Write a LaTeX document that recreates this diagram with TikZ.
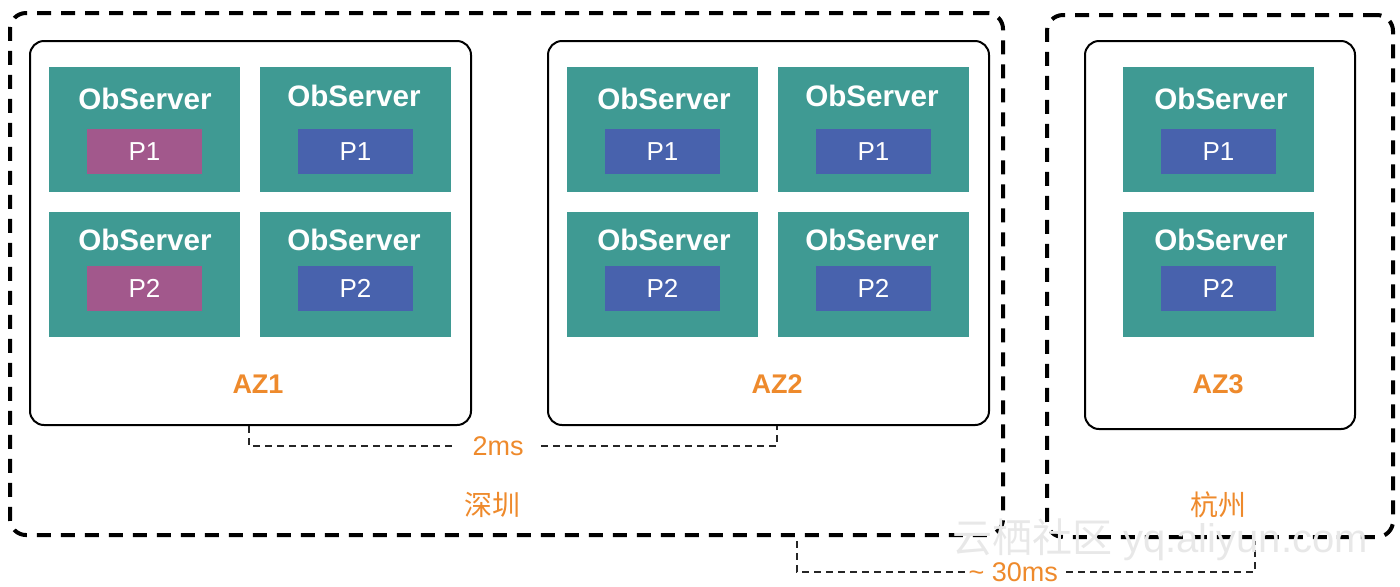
\documentclass[tikz,border=0pt]{standalone}
\usepackage{fontspec}
\setmainfont{Liberation Sans}
\newfontfamily\cjk{Noto Sans CJK SC}
\usetikzlibrary{calc}
\definecolor{teal1}{HTML}{3F9A93}
\definecolor{pink1}{HTML}{A2588C}
\definecolor{blue1}{HTML}{4862AD}
\definecolor{org}{HTML}{EE8A2C}
\tikzset{
  region/.style={draw=black, line width=2pt, dash pattern=on 7pt off 5pt, rounded corners=8pt},
  azbox/.style={draw=black, line width=1pt, rounded corners=7pt, fill=white},
  srv/.style={fill=teal1, minimum width=95.5pt, minimum height=62.5pt, inner sep=0pt},
  srvtitle/.style={text=white, font=\fontsize{14.8}{16}\selectfont\bfseries, inner sep=0pt},
  part/.style={minimum width=57.5pt, minimum height=22.5pt, inner sep=0pt, text=white, font=\fontsize{13}{15}\selectfont},
  pa/.style={part, fill=pink1},
  pb/.style={part, fill=blue1},
  azlabel/.style={text=org, font=\fontsize{13.5}{15}\selectfont\bfseries},
  citylabel/.style={text=org, font=\cjk\fontsize{14}{16}\selectfont},
  conn/.style={draw=black!85, line width=0.8pt, dash pattern=on 3.5pt off 2.5pt},
  lat/.style={text=org, fill=white, inner ysep=0pt, font=\fontsize{13.5}{15}\selectfont},
}
\begin{document}
\begin{tikzpicture}[x=0.5pt,y=-0.5pt]
\useasboundingbox (0,0) rectangle (1400,586);
% regions
\node[region, minimum width=496.5pt, minimum height=261pt] (sz) at (506.5,274) {};
\node[region, minimum width=173pt, minimum height=261pt] (hz) at (1220,276) {};
% AZ boxes
\node[azbox, minimum width=220.5pt, minimum height=192pt] (az1) at (250.5,233) {};
\node[azbox, minimum width=220.5pt, minimum height=192pt] (az2) at (768.5,233) {};
\node[azbox, minimum width=135pt, minimum height=194pt] (az3) at (1220,235) {};
% AZ1 servers
\node[srv] (s11) at (144.5,129.5) {};
\node[srvtitle] (t11) at (145,99) {ObServer};
\node[pa] (p11) at (144.5,151.5) {P1};
\node[srv] (s12) at (355.5,129.5) {};
\node[srvtitle] (t12) at (354,96) {ObServer};
\node[pb] (p12) at (355.5,151.5) {P1};
\node[srv] (s13) at (144.5,274) {};
\node[srvtitle] (t13) at (145,240) {ObServer};
\node[pa] (p13) at (144.5,288.5) {P2};
\node[srv] (s14) at (355.5,274) {};
\node[srvtitle] (t14) at (354,240) {ObServer};
\node[pb] (p14) at (355.5,288.5) {P2};
% AZ2 servers
\node[srv] (s21) at (662.5,129.5) {};
\node[srvtitle] (t21) at (664,99) {ObServer};
\node[pb] (p21) at (662.5,151.5) {P1};
\node[srv] (s22) at (873.5,129.5) {};
\node[srvtitle] (t22) at (872,96) {ObServer};
\node[pb] (p22) at (873.5,151.5) {P1};
\node[srv] (s23) at (662.5,274) {};
\node[srvtitle] (t23) at (664,240) {ObServer};
\node[pb] (p23) at (662.5,288.5) {P2};
\node[srv] (s24) at (873.5,274) {};
\node[srvtitle] (t24) at (872,240) {ObServer};
\node[pb] (p24) at (873.5,288.5) {P2};
% AZ3 servers
\node[srv] (s31) at (1218.5,129.5) {};
\node[srvtitle] (t31) at (1221,99) {ObServer};
\node[pb] (p31) at (1218.5,151.5) {P1};
\node[srv] (s32) at (1218.5,274) {};
\node[srvtitle] (t32) at (1221,240) {ObServer};
\node[pb] (p32) at (1218.5,288.5) {P2};
% labels
\node[azlabel] (l1) at (258,384) {AZ1};
\node[azlabel] (l2) at (777,384) {AZ2};
\node[azlabel] (l3) at (1218,384) {AZ3};
\node[citylabel] (c1) at (492,505) {深圳};
\node[citylabel] (c2) at (1218,505) {杭州};
% 2ms connector
\draw[conn] ($(az1.south)+(-0.75pt,0)$) -- ++(0,20) -| ($(az2.south)+(4.25pt,0)$)
  node[lat, inner xsep=8pt, inner ysep=2pt, pos=0.236] (lt2) {2ms};
% 30ms connector
\coordinate (a) at (797,541);
\coordinate (b) at (1255,541);
\draw[conn] (a) -- ++(0,31) -| (b) node[lat, inner xsep=2pt, pos=0.236] (lt30) {\textasciitilde{} 30ms};
% watermark
\node[text=black!9, font=\fontsize{20}{22}\selectfont, inner sep=0pt] (wm) at (1160,540) {{\cjk 云栖社区} yq.aliyun.com};
\end{tikzpicture}
\end{document}
